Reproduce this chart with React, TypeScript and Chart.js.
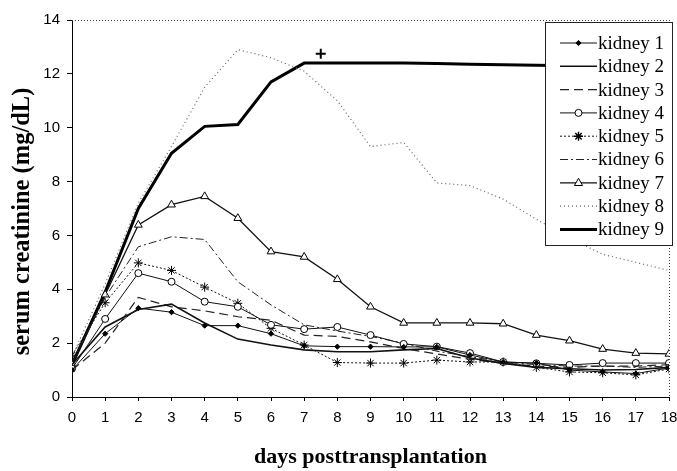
import React, { useEffect, useRef } from "react";
import { Chart, registerables } from "chart.js";

Chart.register(...registerables);

const days = [0, 1, 2, 3, 4, 5, 6, 7, 8, 9, 10, 11, 12, 13, 14, 15, 16, 17, 18];
const yTicks = [0, 2, 4, 6, 8, 10, 12, 14];

const kidney1 = [1.0, 2.35, 3.3, 3.15, 2.65, 2.65, 2.35, 1.9, 1.87, 1.87, 1.86, 1.86, 1.56, 1.3, 1.26, 1.0, 0.93, 0.87, 1.08];
const kidney2 = [1.2, 2.6, 3.25, 3.45, 2.75, 2.15, 1.93, 1.75, 1.68, 1.68, 1.75, 1.8, 1.45, 1.25, 1.1, 1.05, 1.0, 1.02, 1.1];
const kidney3 = [1.0, 2.0, 3.7, 3.35, 3.2, 2.98, 2.85, 2.3, 2.25, 2.05, 1.8, 1.6, 1.4, 1.25, 1.15, 1.1, 1.15, 1.15, 1.2];
const kidney4 = [1.05, 2.9, 4.6, 4.28, 3.54, 3.35, 2.68, 2.52, 2.6, 2.3, 1.97, 1.87, 1.63, 1.3, 1.25, 1.19, 1.26, 1.26, 1.26];
const kidney5 = [1.55, 3.5, 4.98, 4.7, 4.08, 3.48, 2.55, 1.93, 1.28, 1.26, 1.26, 1.37, 1.3, 1.3, 1.1, 0.93, 0.9, 0.82, 1.04];
const kidney6 = [1.3, 3.7, 5.58, 5.95, 5.85, 4.28, 3.42, 2.68, 2.45, 2.25, 2.0, 1.7, 1.5, 1.3, 1.2, 1.15, 1.15, 1.1, 1.15];
const kidney7 = [1.2, 3.8, 6.39, 7.14, 7.45, 6.64, 5.4, 5.2, 4.37, 3.35, 2.75, 2.75, 2.75, 2.72, 2.3, 2.09, 1.78, 1.63, 1.6];
const kidney8 = [1.5, 4.2, 7.2, 9.3, 11.5, 12.9, 12.6, 12.1, 11.0, 9.3, 9.45, 7.95, 7.85, 7.35, 6.6, 5.9, 5.3, 5.0, 4.7];
const kidney9 = [1.2, 3.9, 7.0, 9.05, 10.05, 10.12, 11.7, 12.4, 12.4, 12.4, 12.4, 12.38, 12.36, 12.34, 12.32, 12.3, 12.3, 12.3, 12.3];
const crossX = [7.5];
const crossY = [12.75];

const seriesNames = ["kidney 1", "kidney 2", "kidney 3", "kidney 4", "kidney 5", "kidney 6", "kidney 7", "kidney 8", "kidney 9"];
const seriesValues = [kidney1, kidney2, kidney3, kidney4, kidney5, kidney6, kidney7, kidney8, kidney9];
const xTitle = "days posttransplantation";
const yTitle = "serum creatinine (mg/dL)";

const styles = [
  { borderWidth: 1, borderDash: [], pointStyle: "rectRot", pointRadius: 2.6, pointBackgroundColor: "#000", color: "#111" },
  { borderWidth: 1.6, borderDash: [], pointStyle: "circle", pointRadius: 0, pointBackgroundColor: "#000", color: "#111" },
  { borderWidth: 1.2, borderDash: [9, 5], pointStyle: "circle", pointRadius: 0, pointBackgroundColor: "#000", color: "#222" },
  { borderWidth: 1, borderDash: [], pointStyle: "circle", pointRadius: 3.5, pointBackgroundColor: "#fff", color: "#111" },
  { borderWidth: 1, borderDash: [2, 2], pointStyle: "star", pointRadius: 4.5, pointBackgroundColor: "#000", color: "#111" },
  { borderWidth: 1, borderDash: [8, 3, 2, 3], pointStyle: "circle", pointRadius: 0, pointBackgroundColor: "#000", color: "#222" },
  { borderWidth: 1.3, borderDash: [], pointStyle: "triangle", pointRadius: 4.5, pointBackgroundColor: "#fff", color: "#111" },
  { borderWidth: 1.2, borderDash: [1, 3], pointStyle: "circle", pointRadius: 0, pointBackgroundColor: "#000", color: "#666" },
  { borderWidth: 3, borderDash: [], pointStyle: "circle", pointRadius: 0, pointBackgroundColor: "#000", color: "#000" },
];

function drawMarker(ctx: CanvasRenderingContext2D, style: string, x: number, y: number, r: number, fill: string) {
  if (r <= 0) return;
  ctx.save();
  ctx.setLineDash([]);
  ctx.lineWidth = 1;
  ctx.strokeStyle = "#000";
  ctx.fillStyle = fill;
  ctx.beginPath();
  if (style === "circle") {
    ctx.arc(x, y, r, 0, Math.PI * 2);
    ctx.fill();
    ctx.stroke();
  } else if (style === "rectRot") {
    ctx.moveTo(x, y - r);
    ctx.lineTo(x + r, y);
    ctx.lineTo(x, y + r);
    ctx.lineTo(x - r, y);
    ctx.closePath();
    ctx.fill();
    ctx.stroke();
  } else if (style === "triangle") {
    ctx.moveTo(x, y - r);
    ctx.lineTo(x + r * 0.9, y + r * 0.6);
    ctx.lineTo(x - r * 0.9, y + r * 0.6);
    ctx.closePath();
    ctx.fill();
    ctx.stroke();
  } else if (style === "star") {
    ctx.lineWidth = 1.4;
    for (let k = 0; k < 4; k++) {
      const a = (k * Math.PI) / 4;
      ctx.moveTo(x - Math.cos(a) * r, y - Math.sin(a) * r);
      ctx.lineTo(x + Math.cos(a) * r, y + Math.sin(a) * r);
    }
    ctx.stroke();
  }
  ctx.restore();
}

const framePlugin = {
  id: "frame",
  beforeDatasetsDraw(chart: any) {
    const { ctx, chartArea } = chart;
    ctx.save();
    ctx.strokeStyle = "#444";
    ctx.lineWidth = 1;
    ctx.setLineDash([1, 2]);
    ctx.beginPath();
    ctx.moveTo(chartArea.left, chartArea.top + 0.5);
    ctx.lineTo(chartArea.right + 3, chartArea.top + 0.5);
    ctx.moveTo(chartArea.right + 0.5, chartArea.top);
    ctx.lineTo(chartArea.right + 0.5, chartArea.bottom);
    ctx.stroke();
    ctx.restore();
  },
  afterDraw(chart: any) {
    const { ctx, chartArea } = chart;
    ctx.save();
    ctx.translate(23, (chartArea.top + chartArea.bottom) / 2 + 13);
    ctx.rotate(-Math.PI / 2);
    ctx.font = 'bold 24.5px "Liberation Serif", "Times New Roman", serif';
    ctx.fillStyle = "#000";
    ctx.textAlign = "center";
    ctx.textBaseline = "middle";
    ctx.fillText(yTitle, 0, 0);
    ctx.restore();
  },
};

const legendPlugin = {
  id: "boxLegend",
  afterDatasetsDraw(chart: any) {
    const { ctx, chartArea } = chart;
    const L = chartArea.right - 124;
    const T = chartArea.top + 2;
    const R = chartArea.right + 3;
    const B = chartArea.top + 225;
    ctx.save();
    ctx.fillStyle = "#fff";
    ctx.fillRect(L, T, R - L, B - T);
    ctx.strokeStyle = "#222";
    ctx.lineWidth = 1;
    ctx.setLineDash([]);
    ctx.strokeRect(L + 0.5, T + 0.5, R - L, B - T);
    ctx.font = '19px "Liberation Serif", "Times New Roman", serif';
    ctx.textBaseline = "middle";
    ctx.textAlign = "left";
    for (let i = 0; i < seriesNames.length; i++) {
      const ds = chart.data.datasets[i];
      const y = T + 21 + i * 23.3;
      const x0 = L + 15;
      const x1 = L + 52;
      ctx.save();
      ctx.strokeStyle = ds.borderColor;
      ctx.lineWidth = ds.borderWidth;
      ctx.setLineDash(ds.borderDash || []);
      ctx.beginPath();
      ctx.moveTo(x0, y);
      ctx.lineTo(x1, y);
      ctx.stroke();
      ctx.restore();
      drawMarker(ctx, ds.pointStyle, (x0 + x1) / 2, y, ds.pointRadius, ds.pointBackgroundColor);
      ctx.fillStyle = "#000";
      ctx.fillText(ds.label, x1 + 1, y + 1);
    }
    ctx.restore();
  },
};

export default function App() {
  const canvasRef = useRef<HTMLCanvasElement | null>(null);

  useEffect(() => {
    if (!canvasRef.current) return;
    const datasets: any[] = seriesNames.map((name, i) => ({
      label: name,
      data: days.map((d, j) => ({ x: d, y: seriesValues[i][j] })),
      borderColor: styles[i].color,
      borderWidth: styles[i].borderWidth,
      borderDash: styles[i].borderDash,
      pointStyle: styles[i].pointStyle,
      pointRadius: styles[i].pointRadius,
      pointBackgroundColor: styles[i].pointBackgroundColor,
      pointBorderColor: "#000",
      pointBorderWidth: 1,
      tension: 0,
      fill: false,
    }));
    datasets.push({
      label: "+",
      data: crossX.map((x, j) => ({ x, y: crossY[j] })),
      showLine: false,
      pointStyle: "cross",
      pointRadius: 5,
      pointBorderColor: "#000",
      pointBorderWidth: 2,
      borderColor: "#000",
    });

    const tickFont = { family: '"Liberation Sans", Arial, sans-serif', size: 15 };
    const chart = new Chart(canvasRef.current, {
      type: "line",
      data: { datasets },
      plugins: [framePlugin, legendPlugin],
      options: {
        animation: false,
        responsive: false,
        layout: { padding: { top: 20, right: 0, left: 0, bottom: 0 } },
        plugins: { legend: { display: false }, tooltip: { enabled: false }, title: { display: false } },
        scales: {
          x: {
            type: "linear",
            min: 0,
            max: 18,
            afterFit: (s: any) => {
              s.height = 74;
              s.paddingRight = 8;
              s.paddingLeft = 0;
            },
            afterBuildTicks: (s: any) => {
              s.ticks = days.map((v) => ({ value: v }));
            },
            ticks: { font: tickFont, color: "#000", padding: 8, maxRotation: 0, autoSkip: false },
            grid: { drawOnChartArea: false, drawTicks: true, tickLength: 4, color: "#000" },
            border: { display: true, color: "#000", width: 1 },
            title: {
              display: true,
              text: xTitle,
              color: "#000",
              font: { family: '"Liberation Serif", "Times New Roman", serif', size: 22, weight: "bold" },
              padding: { top: 0, bottom: 0 },
            },
          },
          y: {
            type: "linear",
            min: 0,
            max: 14,
            afterFit: (s: any) => {
              s.width = 72;
            },
            afterBuildTicks: (s: any) => {
              s.ticks = yTicks.map((v) => ({ value: v }));
            },
            ticks: { font: tickFont, color: "#000", padding: 7 },
            grid: { drawOnChartArea: false, drawTicks: true, tickLength: 5, color: "#000" },
            border: { display: true, color: "#000", width: 1 },
            title: { display: false },
          },
        },
      },
    } as any);
    return () => chart.destroy();
  }, []);

  return (
    <div style={{ position: "absolute", left: 0, top: 0, width: 677, height: 471, background: "#fff" }}>
      <canvas ref={canvasRef} width={677} height={471} style={{ display: "block", width: 677, height: 471 }} />
    </div>
  );
}
